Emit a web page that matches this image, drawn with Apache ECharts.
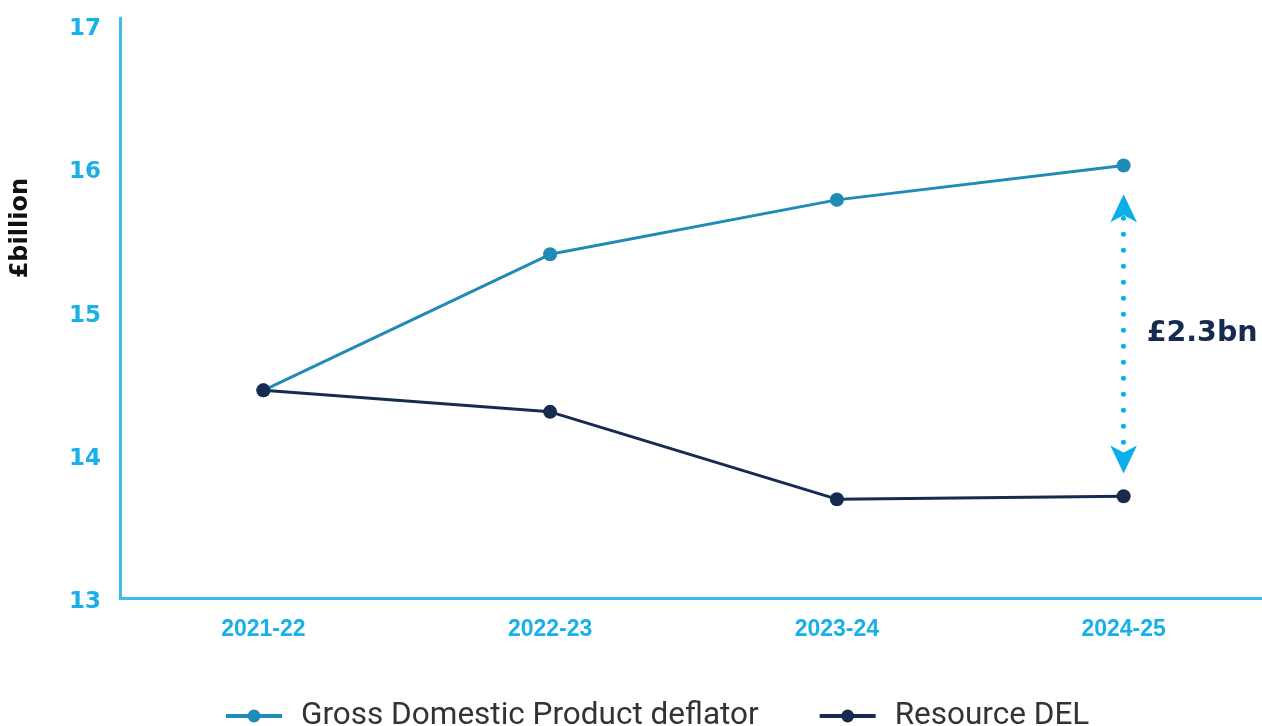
<!DOCTYPE html>
<html><head><meta charset="utf-8">
<script src="https://cdn.jsdelivr.net/npm/echarts@6/dist/echarts.min.js"></script>
<style>html,body{margin:0;padding:0;background:#fff}#c{width:1262px;height:726px}</style>
</head><body><div id="c"></div>
<script>
const categories = ['2021-22', '2022-23', '2023-24', '2024-25'];
const gdpDeflator = [14.45, 15.40, 15.78, 16.02];
const resourceDEL = [14.45, 14.30, 13.69, 13.71];
const yTicks = [13, 14, 15, 16, 17];
const gapLabel = '£2.3bn';
const gapRange = [15.82, 13.87];

const chart = echarts.init(document.getElementById('c'));
chart.setOption({
  animation: false,
  grid: { left: 120, width: 1147, top: 18, bottom: 128, outerBoundsMode: 'none', containLabel: false },
  xAxis: {
    type: 'category', data: categories, boundaryGap: true,
    axisLine: { lineStyle: { color: '#3DBDE8', width: 3 } },
    axisTick: { show: false },
    axisLabel: { color: '#17B0EA', fontFamily: 'Liberation Sans Narrow, Arial Narrow, sans-serif', fontWeight: 'bold', fontSize: 23, margin: 20 }
  },
  yAxis: {
    type: 'value', min: yTicks[0], max: 17.05, interval: 1,
    axisLine: { show: true, lineStyle: { color: '#3DBDE8', width: 3 } },
    axisTick: { show: false },
    splitLine: { show: false },
    axisLabel: { color: '#17B0EA', fontFamily: 'DejaVu Sans, sans-serif', fontWeight: 'bold', fontSize: 23, margin: 19,
      formatter: v => (yTicks.indexOf(v) >= 0 ? '{a|' + v + '}' : ''),
      rich: { a: { color: '#17B0EA', fontFamily: 'DejaVu Sans, sans-serif', fontWeight: 'bold', fontSize: 23, padding: [8, 0, 0, 0] } } }
  },
  legend: {
    left: 219, top: 695, itemWidth: 56, itemHeight: 16, itemGap: 59,
    lineStyle: { width: 4 },
    textStyle: { fontFamily: 'Roboto, sans-serif', fontSize: 31.5, color: '#333', padding: [0, 0, 0, 14] },
    data: ['Gross Domestic Product deflator', 'Resource DEL']
  },
  graphic: [{
    type: 'text', left: 9, top: 178, rotation: Math.PI / 2,
    style: { text: '£billion', fontFamily: 'DejaVu Sans, sans-serif', fontWeight: 'bold', fontSize: 24, fill: '#111' }
  }],
  series: [
    {
      name: 'Gross Domestic Product deflator', type: 'line', data: gdpDeflator,
      symbol: 'circle', symbolSize: 14,
      lineStyle: { color: '#1F8BB6', width: 3 }, itemStyle: { color: '#1F8BB6' },
      markLine: {
        silent: true, symbol: ['arrow', 'arrow'], symbolSize: [20, 28], label: { show: false },
        lineStyle: { color: '#0AAEEB', width: 5, type: [0.01, 16], dashOffset: 8, cap: 'round' },
        data: [[{ coord: [categories[3], gapRange[0]] }, { coord: [categories[3], gapRange[1]] }]]
      }
    },
    {
      name: 'Resource DEL', type: 'line', data: resourceDEL,
      symbol: 'circle', symbolSize: 14,
      lineStyle: { color: '#172A50', width: 3 }, itemStyle: { color: '#172A50' },
      markPoint: {
        symbol: 'circle', symbolSize: 0,
        label: { show: true, position: 'right', distance: 23, formatter: gapLabel, color: '#172A50', fontFamily: 'DejaVu Sans, sans-serif', fontWeight: 'bold', fontSize: 28.5 },
        data: [{ coord: [categories[3], (gapRange[0] + gapRange[1]) / 2] }]
      }
    }
  ]
});
</script></body></html>
